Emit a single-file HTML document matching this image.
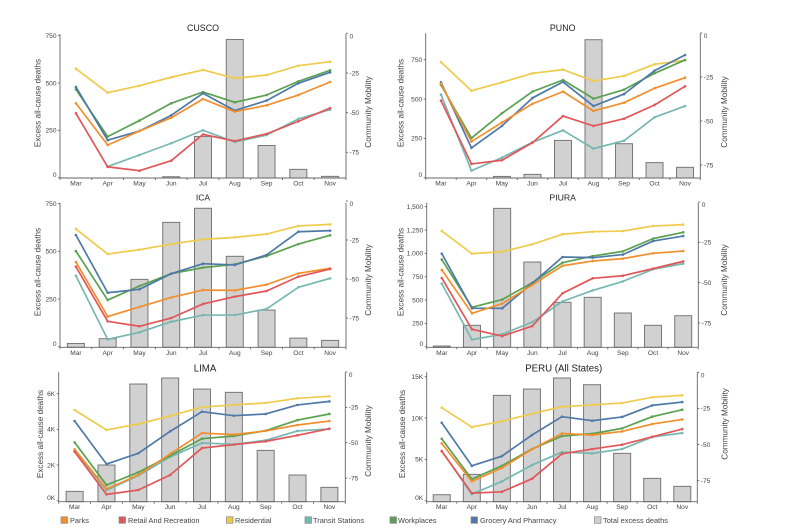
<!DOCTYPE html>
<html lang="en">
<head>
<meta charset="utf-8">
<title>Excess all-cause deaths and community mobility</title>
<style>
html,body{margin:0;padding:0;background:#fff;}
body{width:787px;height:531px;overflow:hidden;position:relative;}
#chart{position:absolute;left:0;top:0;filter:blur(0.35px);}
text{font-family:"Liberation Sans",Arial,sans-serif;fill:#444;}
.tick{font-size:6.6px;fill:#444;}
.title{fill:#222;text-anchor:middle;}
.axis-title{font-size:8.2px;fill:#444;text-anchor:middle;}
.legend{font-size:7.4px;fill:#444;}
</style>
</head>
<body>
<svg id="chart" width="787" height="531" viewBox="0 0 787 531" xmlns="http://www.w3.org/2000/svg">
  <g>
    <g><rect x="61" y="516.800" width="6.500" height="6.500" fill="#f28e2b" stroke="#888" stroke-width=".7"/><text class="legend" x="70" y="523">Parks</text></g>
    <g><rect x="119" y="516.800" width="6.500" height="6.500" fill="#e15759" stroke="#888" stroke-width=".7"/><text class="legend" x="128" y="523">Retail And Recreation</text></g>
    <g><rect x="226.500" y="516.800" width="6.500" height="6.500" fill="#edc948" stroke="#888" stroke-width=".7"/><text class="legend" x="235" y="523">Residential</text></g>
    <g><rect x="305" y="516.800" width="6.500" height="6.500" fill="#76b7b2" stroke="#888" stroke-width=".7"/><text class="legend" x="313" y="523">Transit Stations</text></g>
    <g><rect x="390" y="516.800" width="6.500" height="6.500" fill="#59a14f" stroke="#888" stroke-width=".7"/><text class="legend" x="398" y="523">Workplaces</text></g>
    <g><rect x="471" y="516.800" width="6.500" height="6.500" fill="#4e79a7" stroke="#888" stroke-width=".7"/><text class="legend" x="480" y="523">Grocery And Pharmacy</text></g>
    <g><rect x="594.500" y="516.800" width="6.500" height="6.500" fill="#d0d0d0" stroke="#888" stroke-width=".7"/><text class="legend" x="603" y="523">Total excess deaths</text></g>
  </g>
</svg>
<script>
// Shared categories
const months = ['Mar','Apr','May','Jun','Jul','Aug','Sep','Oct','Nov'];
const rightTicks = [0,-25,-50,-75];

// CUSCO
const cuscoDeaths = [0,0,0,5,218,730,170,44,7];
const cuscoLeftTicks = [0,250,500,750];
const cuscoLeftLabels = ['0','250','500','750'];
const cuscoParks = [-44.1,-70.4,-61.6,-53.2,-41.4,-49.4,-45.4,-38.9,-30.7];
const cuscoRetail = [-50.4,-84.2,-86.6,-80.3,-63.7,-67.9,-63.4,-55.5,-47.1];
const cuscoResidential = [-22.3,-37.4,-33.0,-27.7,-23.1,-28.4,-26.3,-20.4,-17.9];
const cuscoTransit = [null,-84.0,-76.7,-69.3,-61.1,-68.5,-64.1,-54.0,-48.1];
const cuscoWorkplaces = [-35.3,-65.1,-55.0,-44.1,-37.0,-43.5,-38.9,-30.3,-23.3];
const cuscoGrocery = [-33.8,-67.4,-61.6,-51.7,-37.8,-48.7,-42.4,-31.5,-24.6];

// PUNO
const punoDeaths = [0,0,8,21,237,877,216,96,66];
const punoLeftTicks = [0,250,500,750];
const punoLeftLabels = ['0','250','500','750'];
const punoParks = [-28.8,-61.7,-50.8,-40.2,-33.3,-44.3,-39.6,-31.4,-25.4];
const punoRetail = [-38.4,-74.4,-72.3,-62.3,-47.2,-52.8,-48.7,-40.9,-30.3];
const punoResidential = [-16.5,-32.8,-28.0,-22.9,-20.8,-27.3,-24.4,-17.8,-15.5];
const punoTransit = [-35.0,-78.2,-70.8,-62.1,-55.3,-65.7,-61.2,-47.9,-41.5];
const punoWorkplaces = [-29.5,-59.7,-45.6,-33.3,-26.7,-37.3,-32.2,-22.9,-15.3];
const punoGrocery = [-28.0,-65.3,-52.8,-36.9,-27.8,-41.5,-34.7,-21.4,-12.5];

// ICA
const icaDeaths = [17,42,353,652,726,474,192,45,33];
const icaLeftTicks = [0,250,500,750];
const icaLeftLabels = ['0','250','500','750'];
const icaParks = [-39.1,-74.1,-67.9,-61.8,-57.1,-57.3,-53.6,-46.4,-43.2];
const icaRetail = [-42.1,-77.1,-80.3,-75.0,-66.0,-61.3,-57.7,-48.5,-43.6];
const icaResidential = [-17.9,-34.0,-31.2,-27.6,-24.6,-23.3,-21.2,-16.0,-15.0];
const icaTransit = [-47.9,-88.7,-84.2,-77.4,-73.1,-73.1,-69.2,-55.3,-49.6];
const icaWorkplaces = [-32.1,-63.5,-54.5,-46.6,-42.7,-40.6,-35.3,-27.6,-22.0];
const icaGrocery = [-21.8,-58.8,-56.6,-46.6,-40.2,-41.0,-34.6,-19.7,-19.0];

// PIURA
const piuraDeaths = [7,229,1482,907,475,529,361,229,332];
const piuraLeftTicks = [0,250,500,750,1000,1250,1500];
const piuraLeftLabels = ['0','250','500','750','1,000','1,250','1,500'];
const piuraParks = [-42.1,-69.0,-63.0,-51.4,-39.5,-36.6,-35.1,-31.8,-30.4];
const piuraRetail = [-47.1,-78.9,-83.1,-76.9,-56.6,-47.3,-45.7,-41.3,-36.8];
const piuraResidential = [-18.0,-32.0,-30.8,-26.2,-20.0,-18.4,-18.0,-14.9,-14.0];
const piuraTransit = [-50.6,-85.3,-82.0,-74.4,-61.6,-54.8,-49.2,-41.7,-38.2];
const piuraWorkplaces = [-35.7,-65.3,-60.5,-50.0,-37.6,-33.5,-30.6,-22.7,-18.8];
const piuraGrocery = [-32.0,-65.9,-65.9,-50.4,-34.1,-34.5,-32.6,-24.2,-21.1];

// LIMA
const limaDeaths = [523,2000,6542,6879,6258,6075,2822,1439,748];
const limaLeftTicks = [0,2000,4000,6000];
const limaLeftLabels = ['0K','2K','4K','6K'];
const limaParks = [-54.7,-82.8,-72.9,-58.0,-43.2,-44.3,-41.7,-37.5,-34.7];
const limaRetail = [-56.4,-86.6,-83.5,-72.9,-53.8,-51.4,-49.1,-44.8,-40.1];
const limaResidential = [-26.9,-41.0,-36.8,-31.1,-24.8,-23.3,-21.9,-18.6,-17.2];
const limaTransit = [-55.4,-83.7,-73.3,-60.1,-50.2,-51.2,-48.3,-41.7,-40.3];
const limaWorkplaces = [-49.8,-80.0,-71.0,-59.2,-47.2,-45.3,-41.5,-34.0,-29.7];
const limaGrocery = [-34.7,-65.1,-57.5,-42.0,-28.1,-30.9,-29.7,-23.3,-20.8];

// PERU (All States)
const peruDeaths = [726,3185,12742,13508,14839,14032,5726,2702,1734];
const peruLeftTicks = [0,5000,10000,15000];
const peruLeftLabels = ['0K','5K','10K','15K'];
const peruParks = [-49.2,-75.5,-66.1,-53.3,-42.3,-43.4,-40.9,-35.8,-32.6];
const peruRetail = [-54.5,-83.6,-82.7,-73.7,-56.4,-53.1,-50.1,-44.6,-39.3];
const peruResidential = [-24.5,-37.9,-33.9,-28.6,-23.8,-22.6,-21.2,-17.3,-15.9];
const peruTransit = [-54.5,-84.3,-75.5,-64.2,-55.2,-56.1,-53.1,-44.8,-42.0];
const peruWorkplaces = [-46.0,-73.9,-64.7,-53.1,-44.1,-42.5,-38.8,-30.7,-25.9];
const peruGrocery = [-34.9,-64.7,-58.0,-43.4,-30.7,-33.5,-30.9,-22.9,-20.6];

const SVGNS = 'http://www.w3.org/2000/svg';
const chart = document.getElementById('chart');

function node(tag, attrs, parent) {
  const n = document.createElementNS(SVGNS, tag);
  for (const k in attrs) n.setAttribute(k, attrs[k]);
  parent.appendChild(n);
  return n;
}
function linear(d0, d1, r0, r1) {
  return function (v) { return r0 + (v - d0) * (r1 - r0) / (d1 - d0); };
}

function drawPanel(p) {
  const g = node('g', {}, chart);
  
  

  const band = (p.x1 - p.x0) / months.length;
  const xCenter = function (i) { return p.x0 + band * (i + 0.5); };
  const yLeft = linear(0, p.leftRefVal, p.leftZeroY, p.leftRefY);
  const yRight = linear(0, -75, p.rightZeroY, p.rightRefY);

  const title = node('text', { x: p.titleX, y: p.titleY, class: 'title', 'font-size': p.titleSize }, g);
  title.textContent = p.title;
  
  

  // Bars
  const barGroup = node('g', {}, g);
  
  
  p.deaths.forEach(function (v, i) {
    if (!v) return;
    const top = yLeft(v);
    const bar = node('rect', {
      x: xCenter(i) - 8.5, y: top, width: 17, height: Math.max(p.bottom - top, 0.3),
      fill: '#d1d1d1', stroke: '#777', 'stroke-width': 1
    }, barGroup);
    
    
  });

  // Axes
  const axisGroup = node('g', { stroke: '#666', 'stroke-width': 0.9, fill: 'none' }, g);
  
  
  node('line', { x1: p.x0, y1: p.top, x2: p.x0, y2: p.bottom }, axisGroup);
  node('line', { x1: p.x1, y1: p.top, x2: p.x1, y2: p.bottom }, axisGroup);
  node('line', { x1: p.x0, y1: p.bottom, x2: p.x1, y2: p.bottom }, axisGroup);
  for (let i = 0; i <= months.length; i++) {
    const tx = p.x0 + band * i;
    node('line', { x1: tx, y1: p.bottom, x2: tx, y2: p.bottom + 2 }, axisGroup);
  }
  p.leftTicks.forEach(function (v, i) {
    const ty = yLeft(v);
    node('line', { x1: p.x0 - 2, y1: ty, x2: p.x0, y2: ty }, axisGroup);
    const label = node('text', {
      x: p.x0 - 3.5, y: ty + (v === 0 ? -0.7 : 2.3), class: 'tick', 'text-anchor': 'end'
    }, g);
    label.textContent = p.leftLabels[i];
    
    
  });
  rightTicks.forEach(function (v) {
    const ty = yRight(v);
    node('line', { x1: p.x1, y1: ty, x2: p.x1 + 2, y2: ty }, axisGroup);
    const label = node('text', {
      x: p.x1 + 3.5, y: ty + (v === 0 ? 5 : 2.3), class: 'tick'
    }, g);
    label.textContent = String(v);
    
    
  });
  months.forEach(function (m, i) {
    const label = node('text', {
      x: xCenter(i), y: p.bottom + 7.5, class: 'tick', 'text-anchor': 'middle'
    }, g);
    label.textContent = m;
    
    
  });

  // Axis titles
  const leftTitle = node('text', {
    class: 'axis-title',
    transform: 'translate(' + p.leftTitleX + ',' + p.leftTitleY + ') rotate(-90)'
  }, g);
  leftTitle.textContent = 'Excess all-cause deaths';
  
  
  const rightTitle = node('text', {
    class: 'axis-title',
    transform: 'translate(' + p.rightTitleX + ',' + p.rightTitleY + ') rotate(-90)'
  }, g);
  rightTitle.textContent = 'Community Mobility';
  
  

  // Lines
  const seriesList = [
    { key: 'transit', values: p.transit, color: '#76b7b2' },
    { key: 'residential', values: p.residential, color: '#efcb4b' },
    { key: 'workplaces', values: p.workplaces, color: '#59a14f' },
    { key: 'grocery', values: p.grocery, color: '#4e79a7' },
    { key: 'parks', values: p.parks, color: '#f28e2b' },
    { key: 'retail', values: p.retail, color: '#e15759' }
  ];
  seriesList.forEach(function (s) {
    const sg = node('g', {}, g);
    
    
    const pts = [];
    s.values.forEach(function (v, i) {
      if (v === null) return;
      pts.push(xCenter(i).toFixed(2) + ',' + yRight(v).toFixed(2));
    });
    const line = node('polyline', {
      points: pts.join(' '), fill: 'none', stroke: s.color,
      'stroke-width': 1.7, 'stroke-linejoin': 'round'
    }, sg);
    
    
    s.values.forEach(function (v, i) {
      if (v === null) return;
      const dot = node('circle', { cx: xCenter(i), cy: yRight(v), r: 1.3, fill: s.color }, sg);
      
      
    });
  });
}

const panelList = [
  { id: 'cusco', title: 'CUSCO', titleSize: 8.9, titleX: 203, titleY: 31, x0: 60, x1: 346, top: 34, bottom: 178,
    leftRefVal: 750, leftZeroY: 177.7, leftRefY: 35.7, rightZeroY: 33.3, rightRefY: 152.3,
    leftTitleX: 40.5, leftTitleY: 103, rightTitleX: 371, rightTitleY: 112,
    deaths: cuscoDeaths, leftTicks: cuscoLeftTicks, leftLabels: cuscoLeftLabels,
    parks: cuscoParks, retail: cuscoRetail, residential: cuscoResidential,
    transit: cuscoTransit, workplaces: cuscoWorkplaces, grocery: cuscoGrocery },
  { id: 'puno', title: 'PUNO', titleSize: 8.9, titleX: 562.7, titleY: 31, x0: 425.7, x1: 700.3, top: 33.3, bottom: 178,
    leftRefVal: 750, leftZeroY: 177.7, leftRefY: 59.7, rightZeroY: 33, rightRefY: 165,
    leftTitleX: 403.5, leftTitleY: 103, rightTitleX: 727, rightTitleY: 112,
    deaths: punoDeaths, leftTicks: punoLeftTicks, leftLabels: punoLeftLabels,
    parks: punoParks, retail: punoRetail, residential: punoResidential,
    transit: punoTransit, workplaces: punoWorkplaces, grocery: punoGrocery },
  { id: 'ica', title: 'ICA', titleSize: 8.6, titleX: 203, titleY: 200.500, x0: 60, x1: 346, top: 202.7, bottom: 347.3,
    leftRefVal: 750, leftZeroY: 346.7, leftRefY: 203.7, rightZeroY: 201, rightRefY: 318,
    leftTitleX: 40.5, leftTitleY: 272, rightTitleX: 371, rightTitleY: 280,
    deaths: icaDeaths, leftTicks: icaLeftTicks, leftLabels: icaLeftLabels,
    parks: icaParks, retail: icaRetail, residential: icaResidential,
    transit: icaTransit, workplaces: icaWorkplaces, grocery: icaGrocery },
  { id: 'piura', title: 'PIURA', titleSize: 8.7, titleX: 562.7, titleY: 200.500, x0: 426.7, x1: 698.3, top: 202.7, bottom: 347.3,
    leftRefVal: 1500, leftZeroY: 346.7, leftRefY: 206.7, rightZeroY: 202, rightRefY: 323,
    leftTitleX: 403.5, leftTitleY: 272, rightTitleX: 727, rightTitleY: 280,
    deaths: piuraDeaths, leftTicks: piuraLeftTicks, leftLabels: piuraLeftLabels,
    parks: piuraParks, retail: piuraRetail, residential: piuraResidential,
    transit: piuraTransit, workplaces: piuraWorkplaces, grocery: piuraGrocery },
  { id: 'lima', title: 'LIMA', titleSize: 9.7, titleX: 205, titleY: 371.500, x0: 58.7, x1: 345.3, top: 372.3, bottom: 501.7,
    leftRefVal: 6000, leftZeroY: 500.7, leftRefY: 393.7, rightZeroY: 372, rightRefY: 478,
    leftTitleX: 43, leftTitleY: 434, rightTitleX: 371, rightTitleY: 441,
    deaths: limaDeaths, leftTicks: limaLeftTicks, leftLabels: limaLeftLabels,
    parks: limaParks, retail: limaRetail, residential: limaResidential,
    transit: limaTransit, workplaces: limaWorkplaces, grocery: limaGrocery },
  { id: 'peru', title: 'PERU (All States)', titleSize: 9.7, titleX: 563.7, titleY: 371.500, x0: 426.7, x1: 697.3, top: 372.3, bottom: 501.7,
    leftRefVal: 15000, leftZeroY: 500.7, leftRefY: 376.7, rightZeroY: 372.3, rightRefY: 480.7,
    leftTitleX: 405, leftTitleY: 434, rightTitleX: 727.500, rightTitleY: 424,
    deaths: peruDeaths, leftTicks: peruLeftTicks, leftLabels: peruLeftLabels,
    parks: peruParks, retail: peruRetail, residential: peruResidential,
    transit: peruTransit, workplaces: peruWorkplaces, grocery: peruGrocery }
];
panelList.forEach(drawPanel);
</script>
</body>
</html>
